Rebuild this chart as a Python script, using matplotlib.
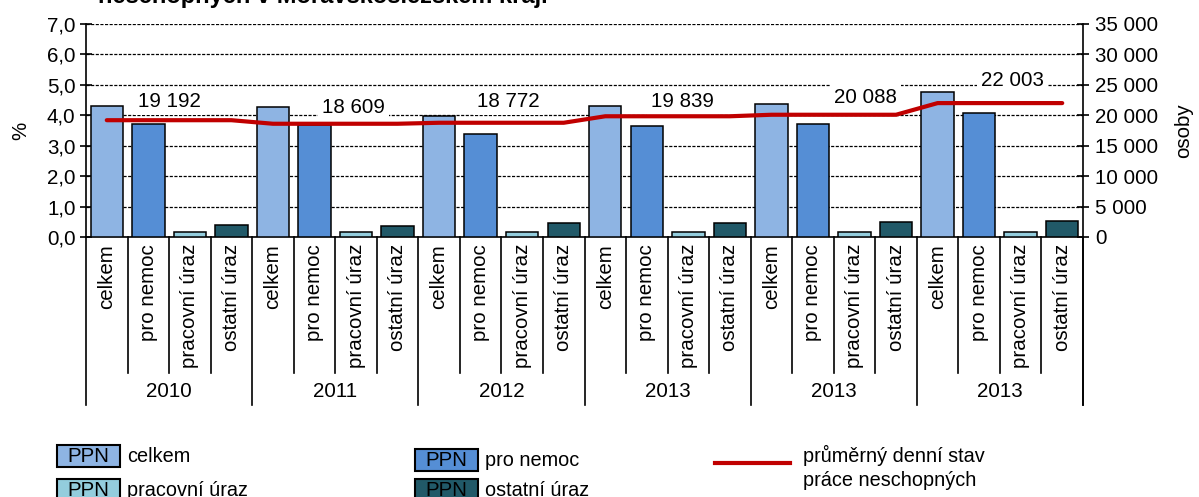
import matplotlib
matplotlib.use("Agg")
import matplotlib.pyplot as plt
from matplotlib.patches import Rectangle
from matplotlib.lines import Line2D
from matplotlib.ticker import FuncFormatter
import numpy as np

plt.rcParams["font.family"] = ["Liberation Sans", "DejaVu Sans"]

# --- data -------------------------------------------------------------
years = ["2010", "2011", "2012", "2013", "2013", "2013"]
kinds = ["celkem", "pro nemoc", "pracovní úraz", "ostatní úraz"]
ppn_celkem = [4.30, 4.27, 3.99, 4.32, 4.37, 4.78]
ppn_nemoc = [3.70, 3.68, 3.37, 3.66, 3.73, 4.08]
ppn_pracovni = [0.17, 0.17, 0.15, 0.15, 0.15, 0.15]
ppn_ostatni = [0.39, 0.37, 0.45, 0.47, 0.48, 0.52]
denni_stav = [19192, 18609, 18772, 19839, 20088, 22003]

# styling
KIND_COLORS = ["#8EB4E3", "#558ED5", "#93CDDD", "#215968"]
LINE_COLOR = "#C00000"
FS = 14.8
W, H = 1199, 497
# per-label nudge (px) so labels sit like in the original
label_nudge = [(0, 19), (18, 16.5), (7, 21.5), (15, 15), (32, 17.5), (13, 23)]


def px(x, y):
    # pixel coords (from top-left) -> figure fraction
    return x / W, 1 - y / H


fig = plt.figure(figsize=(W / 100, H / 100), dpi=100)
l, b = px(86, 237)
r, t = px(1083, 24)
ax = fig.add_axes([l, b, r - l, t - b])

series = [ppn_celkem, ppn_nemoc, ppn_pracovni, ppn_ostatni]
n_groups = len(years)
n_kinds = len(kinds)
xpos = np.arange(n_groups * n_kinds)
values = np.array(series).T.ravel()
colors = KIND_COLORS * n_groups

ax.bar(xpos, values, width=0.78, color=colors, edgecolor="black", linewidth=1.1, zorder=3)

ax.set_xlim(-0.5, n_groups * n_kinds - 0.5)
ax.set_ylim(0, 7)
ax.set_yticks(np.arange(0, 7.1, 1))
ax.yaxis.set_major_formatter(FuncFormatter(lambda v, p: f"{v:.1f}".replace(".", ",")))
ax.grid(axis="y", color="black", linestyle=(0, (2.5, 1.2)), linewidth=0.9, zorder=0)
ax.tick_params(axis="y", direction="inout", length=9, width=1.2, labelsize=FS, pad=3)
ax.set_ylabel("%", fontsize=FS, labelpad=12)

ax.spines["top"].set_visible(False)
ax.spines["right"].set_visible(False)
ax.spines["left"].set_linewidth(1.2)
ax.spines["bottom"].set_linewidth(1.2)

# category labels + separators below the axis
ax.set_xticks(xpos)
ax.set_xticklabels(kinds * n_groups, rotation=90, fontsize=FS, va="top")
ax.tick_params(axis="x", length=0, pad=5)

trans = ax.get_xaxis_transform()
for i in range(n_groups * n_kinds + 1):
    xb = i - 0.5
    bottom = -0.789 if i % n_kinds == 0 else -0.638
    ax.plot([xb, xb], [0, bottom], color="black", lw=1.2, transform=trans, clip_on=False)
for g, yr in enumerate(years):
    ax.text(g * n_kinds + (n_kinds - 1) / 2, -0.725, yr, transform=trans,
            ha="center", va="center", fontsize=FS)

# right axis: persons
ax2 = ax.twinx()
ax2.set_ylim(0, 35000)
ax2.set_yticks(np.arange(0, 35001, 5000))
ax2.yaxis.set_major_formatter(FuncFormatter(lambda v, p: f"{int(v):,}".replace(",", " ")))
ax2.tick_params(axis="y", direction="inout", length=9, width=1.2, labelsize=FS, pad=4)
ax2.set_ylabel("osoby", fontsize=FS, labelpad=12)
for s in ["top", "left", "bottom"]:
    ax2.spines[s].set_visible(False)
ax2.spines["right"].set_linewidth(1.2)
ax2.spines["right"].set_bounds(0, 35000)

line_y = np.repeat(denni_stav, n_kinds)
ax2.plot(xpos, line_y, color=LINE_COLOR, lw=3.0, solid_capstyle="round", zorder=6)

for g, val in enumerate(denni_stav):
    dx, dy = label_nudge[g]
    ax2.annotate(f"{val:,}".replace(",", " "),
                 xy=(g * n_kinds + (n_kinds - 1) / 2, val),
                 xytext=(dx * 0.72, dy * 0.72), textcoords="offset points",
                 ha="center", va="center", fontsize=FS, zorder=5,
                 bbox=dict(boxstyle="square,pad=0.2", fc="white", ec="none"))

# right spine continues down past the axis like the left one
ax.plot([n_groups * n_kinds - 0.5] * 2, [0, -0.789], color="black", lw=1.2,
        transform=trans, clip_on=False)

# title (cut off at top in the original)
fig.text(*px(98, 3), "neschopných v Moravskoslezském kraji", fontsize=17,
         fontweight="bold", ha="left", va="baseline")

# --- legend -------------------------------------------------------------
def ppn_key(x, y, color, label):
    x0, y0 = px(x, y + 11)
    w, h = 63 / W, 22 / H
    fig.patches.append(Rectangle((x0, y0), w, h, transform=fig.transFigure,
                                 facecolor=color, edgecolor="black", lw=1.5))
    fig.text(x0 + w / 2, y0 + h / 2, "PPN", ha="center", va="center", fontsize=FS)
    fig.text(*px(x + 70, y), label, ha="left", va="center", fontsize=FS - 0.5)


ppn_key(57, 456, KIND_COLORS[0], kinds[0])
ppn_key(415, 460, KIND_COLORS[1], kinds[1])
ppn_key(57, 490, KIND_COLORS[2], kinds[2])
ppn_key(415, 490, KIND_COLORS[3], kinds[3])

lx0, ly = px(715, 463)
lx1, _ = px(790, 463)
fig.add_artist(Line2D([lx0, lx1], [ly, ly], color=LINE_COLOR, lw=3.0, transform=fig.transFigure))
fig.text(*px(803, 455), "průměrný denní stav", ha="left", va="center", fontsize=FS - 0.5)
fig.text(*px(803, 481), "práce neschopných", ha="left", va="center", fontsize=FS - 0.5)

fig.savefig("out.png", dpi=100)
